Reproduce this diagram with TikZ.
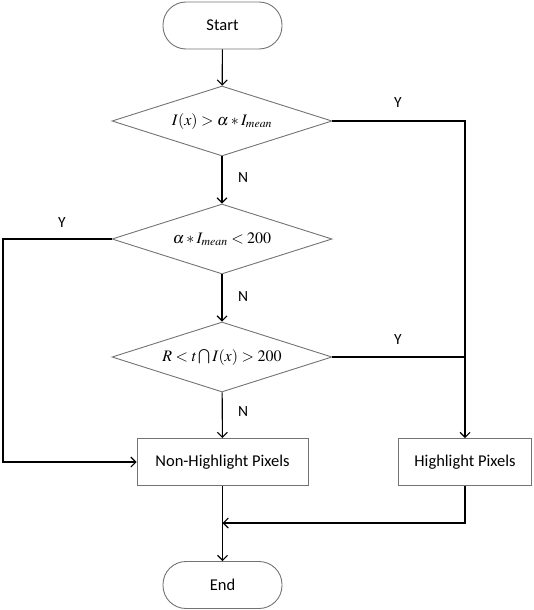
\documentclass[tikz,border=0pt]{standalone}
\usepackage{mathptmx}
\usepackage[no-math]{fontspec}
\setmainfont{Carlito}
\usetikzlibrary{shapes.geometric,arrows.meta}
\begin{document}
\begin{tikzpicture}[x=1pt,y=-1pt,
  shapeline/.style={draw=black!55,line width=0.9pt},
  term/.style={shapeline,rectangle,rounded corners=23pt,minimum width=119pt,minimum height=47pt,inner sep=0pt,font=\fontsize{16.5}{19}\selectfont},
  decision/.style={shapeline,diamond,aspect=3.14,minimum width=220pt,minimum height=70pt,inner sep=0pt,font=\fontsize{16}{19}\selectfont},
  procbox/.style={shapeline,rectangle,minimum height=47pt,inner sep=0pt,font=\fontsize{16.5}{19}\selectfont},
  conn/.style={draw=black,line width=1.1pt},
  arr/.style={conn,-{Straight Barb[length=5pt,width=10pt]}},
  lab/.style={font=\fontsize{15.5}{18}\selectfont,inner sep=0pt}]
\useasboundingbox (0,0) rectangle (533,610);
\node[term] (start) at (222.5,25.5) {Start};
\node[decision] (d1) at (222,121) {$I(x)>\alpha * I_{mean}$};
\node[decision] (d2) at (222,239) {$\alpha * I_{mean}<200$};
\node[decision] (d3) at (222,357) {$R<t\bigcap I(x)>200$};
\node[procbox,minimum width=171pt] (nh) at (222.5,462) {Non-Highlight Pixels};
\node[procbox,minimum width=133pt] (hl) at (465,462) {Highlight Pixels};
\node[term] (end) at (222.5,585) {End};
\coordinate (L) at (3,239);
\coordinate (M) at (222.5,523);
\draw[arr] (start) -- (d1);
\draw[arr] (d1) -- (d2);
\draw[arr] (d2) -- (d3);
\draw[arr] (d3) -- (nh);
\draw[arr] (d1.east) -| (hl.north);
\draw[conn] (d3.east) -- (d3.east -| hl.north);
\draw[arr] (d2.west) -- (L) |- (nh.west);
\draw[arr] (hl.south) |- (M);
\draw[arr] (nh) -- (end);
\node[lab] (y1) at (398,103) {Y};
\node[lab] (y2) at (62,223) {Y};
\node[lab] (y3) at (398,340) {Y};
\node[lab] (n1) at (243,178) {N};
\node[lab] (n2) at (243,297) {N};
\node[lab] (n3) at (243,412) {N};
\end{tikzpicture}
\end{document}
